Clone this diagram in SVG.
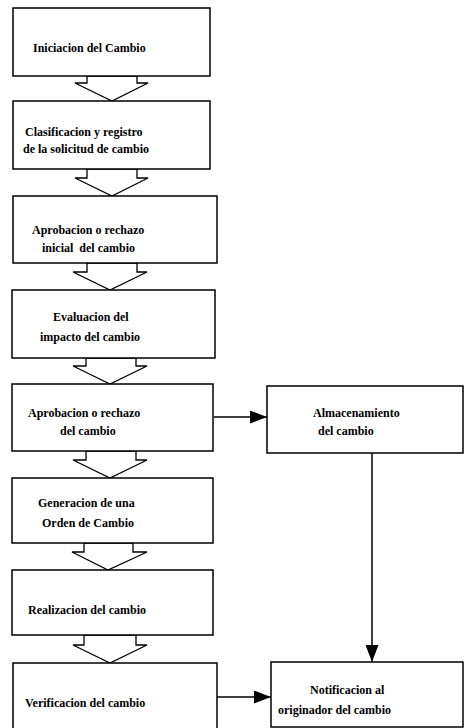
<svg xmlns="http://www.w3.org/2000/svg" width="465" height="728" viewBox="0 0 465 728">
<style>
.box{fill:#fff;stroke:#000;stroke-width:1.5}
.blk{fill:#fff;stroke:#000;stroke-width:1.3;stroke-linejoin:miter}
.t{font-family:"Liberation Serif","Times New Roman",serif;font-size:12px;font-weight:bold;fill:#000}
.ln{stroke:#000;stroke-width:1.5;fill:none}
</style>
<defs>
<marker id="ah" markerWidth="17" markerHeight="13" refX="17" refY="6.5" orient="auto" markerUnits="userSpaceOnUse" viewBox="0 0 17 13">
<path d="M0,0 L17,6.5 L0,13 Z" fill="#000"/>
</marker>
</defs>
<rect width="465" height="728" fill="#fff"/>
<g id="connectors">
<polygon class="blk" points="87,76 87,83 75,83 112,101 148,83 137,83 137,76"/>
<polygon class="blk" points="87,169 87,178 75,178 112,196 148,178 137,178 137,169"/>
<polygon class="blk" points="87,263 87,272 73,272 110,290 147,272 137,272 137,263"/>
<polygon class="blk" points="86,358 86,366 73,366 110,384 147,366 136,366 136,358"/>
<polygon class="blk" points="86,451 86,460 73,460 110,478 147,460 136,460 136,451"/>
<polygon class="blk" points="84,543 84,552 72,552 108,570 147,552 133,552 133,543"/>
<polygon class="blk" points="84,635 84,645 73,645 110,663 147,645 136,645 136,635"/>
<line class="ln" x1="214" y1="417" x2="267" y2="417" marker-end="url(#ah)"/>
<line class="ln" x1="372" y1="453" x2="372" y2="662" marker-end="url(#ah)"/>
<line class="ln" x1="217" y1="697" x2="271" y2="697" marker-end="url(#ah)"/>
</g>
<g id="n1"><rect class="box" x="13" y="8" width="197" height="68"/>
<text class="t" x="33" y="52">Iniciacion del Cambio</text></g>
<g id="n2"><rect class="box" x="13" y="101" width="197" height="68"/>
<text class="t" x="25" y="136">Clasificacion y registro</text>
<text class="t" x="23" y="153">de la solicitud de cambio</text></g>
<g id="n3"><rect class="box" x="13" y="196" width="204" height="67"/>
<text class="t" x="32" y="234">Aprobacion o rechazo</text>
<text class="t" x="42" y="252" xml:space="preserve">inicial  del cambio</text></g>
<g id="n4"><rect class="box" x="12" y="290" width="203" height="68"/>
<text class="t" x="53" y="321">Evaluacion del</text>
<text class="t" x="40" y="341">impacto del cambio</text></g>
<g id="n5"><rect class="box" x="12" y="384" width="201" height="67"/>
<text class="t" x="28" y="417">Aprobacion o rechazo</text>
<text class="t" x="60" y="435">del cambio</text></g>
<g id="n6"><rect class="box" x="267" y="386" width="196" height="67"/>
<text class="t" x="313" y="417">Almacenamiento</text>
<text class="t" x="318" y="435">del cambio</text></g>
<g id="n7"><rect class="box" x="12" y="478" width="201" height="65"/>
<text class="t" x="38" y="507">Generacion de una</text>
<text class="t" x="42" y="527">Orden de Cambio</text></g>
<g id="n8"><rect class="box" x="12" y="570" width="201" height="65"/>
<text class="t" x="28" y="614">Realizacion del cambio</text></g>
<g id="n9"><rect class="box" x="13" y="663" width="204" height="70"/>
<text class="t" x="25" y="707">Verificacion del cambio</text></g>
<g id="n10"><rect class="box" x="271" y="662" width="192" height="65"/>
<text class="t" x="310" y="694">Notificacion al</text>
<text class="t" x="278" y="714">originador del cambio</text></g>
</svg>
